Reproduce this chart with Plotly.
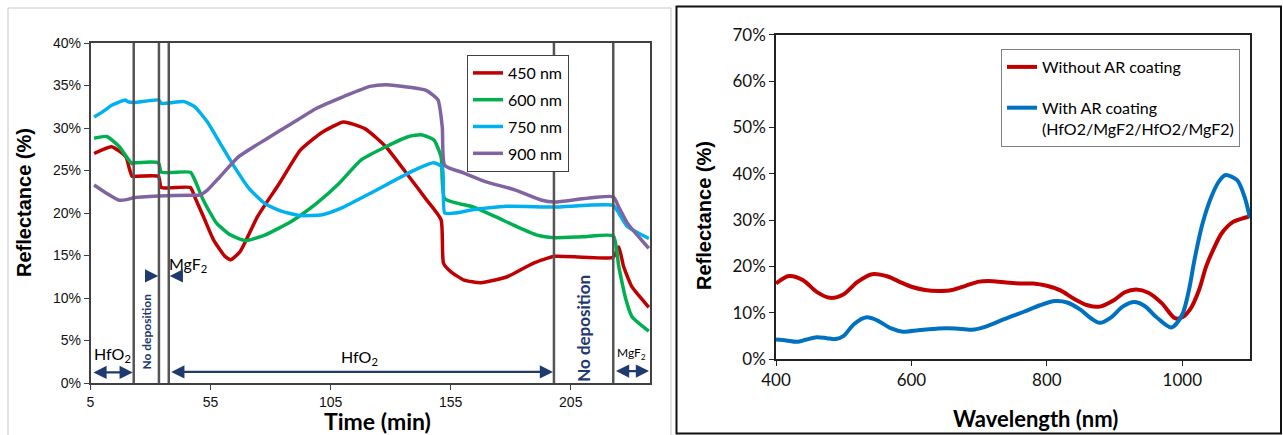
import plotly.graph_objects as go

# ---------------- Left chart data (time in min, reflectance in %) ----------------
t_450 = [6.5, 13.8, 19.8, 21, 22.3, 23, 33.3, 34.5, 46.6, 48.4, 52.6, 56.3, 61, 63.4, 67.4, 74.6, 83.7, 92.4, 101.5,
         110.4, 119.4, 128, 137.6, 144.8, 151, 152, 155, 160.6, 167.6, 178.5, 189.5, 198.2, 210, 222.7, 225, 227,
         230.5, 236, 237.5]
r_450 = [27.0, 27.8, 26.6, 25.4, 24.3, 24.3, 24.3, 23.0, 23.0, 21.9, 19.2, 16.8, 14.9, 14.5, 15.5, 19.6, 23.5, 27.4, 29.5,
         30.7, 29.9, 27.8, 24.3, 21.6, 19.2, 14.1, 13.1, 12.1, 11.8, 12.5, 14.1, 14.9, 14.8, 14.8, 16.0, 13.7,
         11.3, 9.4, 8.9]

t_600 = [6.5, 11.8, 17, 20.5, 22.3, 23, 33.3, 34.5, 46.6, 48.4, 52, 57.5, 63.4, 69.6, 77.6, 88.6, 99, 108.6, 117.5, 128,
         137.6, 142.7, 148, 151, 152.5, 164.6, 173.4, 182.5, 191, 198.2, 210, 222.7, 225, 228, 230.5, 237.5]
r_600 = [28.8, 29.0, 27.8, 26.4, 25.8, 25.9, 25.9, 24.8, 24.8, 23.9, 21.5, 18.8, 17.4, 16.75, 17.4, 19.0, 21.1, 23.5, 26.2, 27.8,
         29.0, 29.2, 28.6, 26.6, 21.7, 20.7, 19.6, 18.4, 17.4, 17.1, 17.2, 17.3, 13.7, 9.8, 7.8, 6.1]

t_750 = [6.5, 10, 14, 19.5, 20.5, 23, 33.3, 34.5, 44, 48.4, 53.7, 59, 65, 71, 77.6, 84.8, 92.4, 101.5, 110.4, 121.4,
         132, 141, 148, 151.5, 152.5, 157, 164.6, 178.5, 198.2, 222.7, 225, 228.6, 237.5]
r_750 = [31.3, 31.9, 32.7, 33.3, 33.1, 33.0, 33.3, 32.9, 33.1, 32.5, 30.7, 28.2, 25.4, 22.9, 21.1, 20.2, 19.7, 19.8, 20.7, 22.3,
         23.9, 25.2, 25.9, 25.4, 20.0, 20.0, 20.4, 20.8, 20.7, 20.9, 20.0, 18.4, 17.0]

t_900 = [6.5, 11.8, 17, 20.5, 23, 33.5, 46.6, 50.3, 53.7, 59, 66.6, 77.6, 88.6, 99, 110.4, 121.4, 128, 137.6, 145,
         149.7, 151.5, 152.5, 160.6, 169.4, 182, 193, 198.2, 222.7, 225, 228.6, 237.5]
r_900 = [23.3, 22.3, 21.5, 21.6, 21.8, 22.0, 22.1, 22.1, 22.7, 24.3, 26.6, 28.6, 30.5, 32.3, 33.7, 34.9, 35.1, 34.8, 34.4,
         33.3, 30.1, 25.6, 24.7, 23.7, 22.7, 21.5, 21.3, 21.9, 20.7, 18.8, 15.85]

left_names = ["450 nm", "600 nm", "750 nm", "900 nm"]
left_colors = ["#C00000", "#00B050", "#00B0F0", "#8064A2"]
phase_times = [23, 33.5, 37.6, 198, 222.7]
left_xticks = [5, 55, 105, 155, 205]

# ---------------- Right chart data (wavelength nm, reflectance %) ----------------
wl_red = [400, 419, 440, 460, 480, 500, 520, 542, 565, 585, 600, 620, 640, 660, 680, 700, 720, 740, 760, 780, 800,
          820, 840, 860, 878, 900, 915, 932, 950, 970, 989, 1000, 1012, 1025, 1035, 1047, 1058, 1075, 1088, 1098]
rf_red = [16.3, 17.9, 17.0, 14.5, 13.2, 14.0, 16.6, 18.3, 17.8, 16.5, 15.6, 14.9, 14.7, 14.9, 15.8, 16.7, 16.8, 16.5, 16.3, 16.3, 15.8,
          14.8, 13.0, 11.6, 11.3, 12.8, 14.4, 15.0, 14.3, 12.0, 8.8, 9.0, 10.8, 15.0, 19.9, 24.0, 27.1, 29.6, 30.3, 30.7]

wl_blue = [400, 415, 431, 445, 460, 475, 488, 500, 515, 534, 550, 570, 588, 610, 640, 665, 689, 710, 737, 766, 790,
           812, 830, 850, 865, 878, 895, 912, 929, 945, 962, 984, 1000, 1010, 1018, 1030, 1044, 1055, 1064, 1081,
           1092, 1100]
rf_blue = [4.2, 4.0, 3.7, 4.2, 4.7, 4.5, 4.3, 5.0, 7.5, 9.0, 8.3, 6.6, 5.9, 6.2, 6.6, 6.6, 6.3, 7.0, 8.6, 10.2, 11.6,
           12.5, 12.2, 10.6, 8.8, 7.8, 9.0, 11.3, 12.3, 11.4, 9.0, 6.8, 9.6, 15.0, 21.4, 29.3, 35.4, 38.5, 39.7, 38.6,
           35.0, 30.4]

right_names = ["Without AR coating", "With AR coating<br>(HfO2/MgF2/HfO2/MgF2)"]
right_colors = ["#C00000", "#0070C0"]

W, H = 1283, 435
ML, MR, MT, MB = 30, 12, 22, 16
PW, PH = W - ML - MR, H - MT - MB
NAVY = "#1F3A6E"


def px(x):
    return (x - ML) / PW


def py(y):
    return (H - MB - y) / PH


fig = go.Figure()

left_series = [(t_450, r_450), (t_600, r_600), (t_750, r_750), (t_900, r_900)]
for i, ((tt, rr), name, col) in enumerate(zip(left_series, left_names, left_colors)):
    fig.add_trace(go.Scatter(x=tt, y=rr, mode="lines", name=name,
                             line=dict(color=col, width=3.5, shape="spline", smoothing=0.5),
                             xaxis="x", yaxis="y", legend="legend", legendgroup="L%d" % i))

for i, ((ww, rr), name, col) in enumerate(zip([(wl_red, rf_red), (wl_blue, rf_blue)], right_names, right_colors)):
    fig.add_trace(go.Scatter(x=ww, y=rr, mode="lines", name=name,
                             line=dict(color=col, width=4, shape="spline", smoothing=0.8),
                             xaxis="x2", yaxis="y2", legend="legend2", legendgroup="R%d" % i))

tickfont_l = dict(family="Liberation Sans", size=14, color="#111111")
tickfont_r = dict(family="Lato", size=17, color="#111111")

fig.update_layout(
    width=W, height=H, autosize=False,
    margin=dict(l=ML, r=MR, t=MT, b=MB, pad=0),
    paper_bgcolor="white", plot_bgcolor="white",
    showlegend=True,
    xaxis=dict(domain=[px(90.5), px(650)], range=[5, 238], tickvals=left_xticks, ticks="outside", ticklen=5,
               tickcolor="#404040", showline=True, linecolor="#404040", linewidth=1.5, mirror=True,
               showgrid=False, zeroline=False, tickfont=tickfont_l, anchor="y", automargin=False),
    yaxis=dict(domain=[py(383), py(43)], range=[0, 40], dtick=5, ticksuffix="%", ticks="outside", ticklen=5,
               tickcolor="#404040", showline=True, linecolor="#404040", linewidth=1.5, mirror=True,
               showgrid=False, zeroline=False, tickfont=tickfont_l, anchor="x", automargin=False),
    xaxis2=dict(domain=[px(776), px(1250)], range=[400, 1100], dtick=200, ticks="outside", ticklen=5,
                tickcolor="#222", showline=True, linecolor="#222", linewidth=1.5, mirror=True,
                showgrid=False, zeroline=False, tickfont=tickfont_r, anchor="y2", automargin=False),
    yaxis2=dict(domain=[py(359), py(34.7)], range=[0, 70], dtick=10, ticksuffix="%", ticks="outside", ticklen=5,
                tickcolor="#222", showline=True, linecolor="#222", linewidth=1.5, mirror=True,
                showgrid=False, zeroline=False, tickfont=tickfont_r, anchor="x2", automargin=False),
    legend=dict(x=px(467), y=py(55), xanchor="left", yanchor="top", bgcolor="white",
                bordercolor="#404040", borderwidth=1, font=dict(family="Lato", size=16, color="black"),
                tracegroupgap=3, itemwidth=30),
    legend2=dict(x=px(1001), y=py(49), xanchor="left", yanchor="top", bgcolor="white",
                 bordercolor="#808080", borderwidth=1, font=dict(family="Lato", size=16, color="black"),
                 tracegroupgap=17, valign="top", itemwidth=30),
)

shapes = []
# panel frames
shapes.append(dict(type="rect", xref="paper", yref="paper", x0=px(8), x1=px(671), y0=py(436), y1=py(8),
                   line=dict(color="#C8C8C8", width=1)))
shapes.append(dict(type="rect", xref="paper", yref="paper", x0=px(676.5), x1=px(1281), y0=py(433.5), y1=py(6.5),
                   line=dict(color="#111111", width=2)))
for t in phase_times:
    shapes.append(dict(type="line", xref="x", yref="y", x0=t, x1=t, y0=0, y1=40,
                       line=dict(color="#555555", width=2.5)))
fig.update_layout(shapes=shapes)

ann = []


def arrow(x0, x1, y, both=False):
    ann.append(dict(x=x1, y=y, ax=x0, ay=y, xref="x", yref="y", axref="x", ayref="y", text="",
                    showarrow=True, arrowhead=2, arrowsize=1.2, arrowwidth=2.2, arrowcolor=NAVY,
                    startarrowhead=2, startarrowsize=1.2, arrowside="end+start" if both else "end"))


arrow(5.6, 22.6, 1.25, both=True)
arrow(29.5, 33.2, 12.6)
arrow(42.5, 38.0, 12.6)
arrow(38.0, 197.6, 1.3, both=True)
arrow(223.2, 237.6, 1.4, both=True)


def text(x, y, s, size, color="black", bold=False, angle=0, family="Lato"):
    ann.append(dict(x=x, y=y, xref="x", yref="y", text=("<b>%s</b>" % s) if bold else s, showarrow=False,
                    textangle=angle, font=dict(family=family, size=size, color=color)))


text(14.2, 3.3, "HfO<sub>2</sub>", 16)
text(45.5, 13.9, "MgF<sub>2</sub>", 16)
text(117, 3.0, "HfO<sub>2</sub>", 16)
text(230.3, 3.5, "MgF<sub>2</sub>", 12)
text(28.3, 6.1, "No deposition", 12, color=NAVY, bold=True, angle=-90)
text(210.2, 6.4, "No deposition", 17, color=NAVY, bold=True, angle=-90)


def ptext(x, y, s, size, angle=0, family="Liberation Sans", bold=True):
    ann.append(dict(x=px(x), y=py(y), xref="paper", yref="paper", text=("<b>%s</b>" % s) if bold else s,
                    showarrow=False, textangle=angle, xanchor="center", yanchor="middle",
                    font=dict(family=family, size=size, color="black")))


ptext(24, 203, "Reflectance (%)", 20, angle=-90)
ptext(377, 421, "Time (min)", 23, family="Lato")
ptext(704, 215, "Reflectance (%)", 20, angle=-90)
ptext(1035, 418, "Wavelength (nm)", 22, family="Lato")

fig.update_layout(annotations=ann)

fig.write_html("out.html", config={"displayModeBar": False},
               post_script="document.body.style.margin='0px';document.body.style.overflow='hidden';")
